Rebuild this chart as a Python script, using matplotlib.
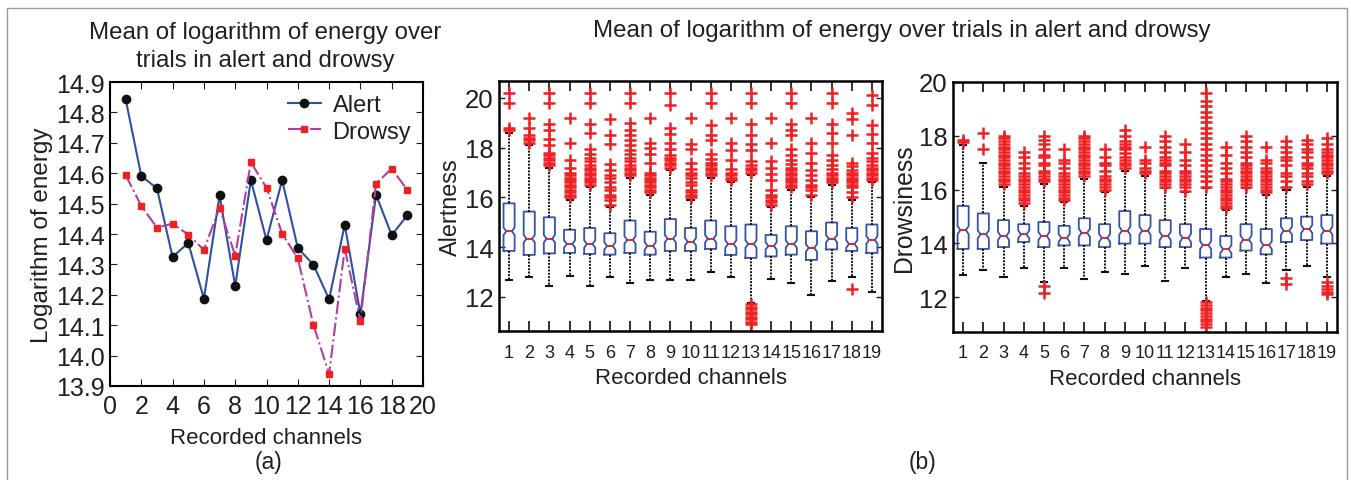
import numpy as np
import matplotlib
matplotlib.use('Agg')
import matplotlib.pyplot as plt
from matplotlib.patches import Rectangle

plt.rcParams['font.family'] = ['Liberation Sans', 'DejaVu Sans']
plt.rcParams['text.color'] = '#231f20'
plt.rcParams['axes.labelcolor'] = '#231f20'
plt.rcParams['xtick.color'] = '#231f20'
plt.rcParams['ytick.color'] = '#231f20'

# (a) mean log energy per channel
channels = list(range(1, 20))
alert_mean = [14.843, 14.591, 14.550, 14.324, 14.371, 14.187, 14.527, 14.229, 14.577, 14.380,
              14.577, 14.354, 14.299, 14.185, 14.431, 14.136, 14.529, 14.396, 14.462]
drowsy_mean = [14.594, 14.492, 14.421, 14.434, 14.398, 14.348, 14.486, 14.329, 14.636, 14.552,
               14.401, 14.320, 14.101, 13.939, 14.352, 14.113, 14.566, 14.615, 14.545]

# (b) box statistics, alertness
al_q1 = [13.85, 13.69, 13.75, 13.77, 13.73, 13.70, 13.77, 13.70, 13.85, 13.85,
         13.93, 13.69, 13.57, 13.63, 13.70, 13.49, 13.91, 13.85, 13.77]
al_med = [14.64, 14.34, 14.34, 14.13, 14.13, 14.05, 14.29, 14.05, 14.34, 14.22,
          14.34, 14.13, 14.13, 14.05, 14.13, 13.97, 14.34, 14.13, 14.29]
al_q3 = [15.76, 15.43, 15.20, 14.70, 14.77, 14.56, 15.07, 14.62, 15.13, 14.77,
         15.07, 14.84, 14.91, 14.49, 14.84, 14.64, 14.99, 14.77, 14.91]
al_lo = [12.69, 12.79, 12.43, 12.86, 12.43, 12.79, 12.56, 12.69, 12.69, 12.69,
         12.99, 12.79, 11.75, 12.72, 12.56, 12.08, 12.65, 12.79, 12.21]
al_hi = [18.6, 18.1, 17.2, 15.9, 16.4, 15.6, 16.8, 16.1, 17.1, 15.9,
         16.8, 16.6, 16.9, 15.6, 16.3, 16.0, 16.5, 15.9, 16.6]
al_out = [
    [18.7, 18.8, 19.8, 20.2],
    [18.2, 18.3, 18.4, 18.5, 18.8, 19.2],
    [17.3, 17.4, 17.5, 17.6, 17.7, 17.8, 18.1, 18.35, 18.7, 18.95, 19.8, 20.2],
    [16.0, 16.1, 16.2, 16.3, 16.4, 16.5, 16.6, 16.7, 16.8, 16.9, 17.0, 17.2, 17.5, 18.2, 19.2],
    [16.5, 16.6, 16.7, 16.8, 16.9, 17.0, 17.1, 17.2, 17.3, 17.45, 17.6, 17.75, 17.95, 18.6, 18.95, 19.8, 20.2],
    [15.7, 15.9, 16.0, 16.1, 16.3, 16.4, 16.6, 16.8, 16.9, 17.1, 17.35, 18.15, 18.5, 19.15],
    [16.9, 17.0, 17.1, 17.2, 17.3, 17.45, 17.6, 17.75, 17.9, 18.1, 18.3, 18.5, 18.7, 19.0, 19.8, 20.2],
    [16.2, 16.3, 16.4, 16.5, 16.6, 16.7, 16.8, 16.9, 17.0, 17.4, 17.75, 18.0, 18.2, 19.2],
    [17.2, 17.3, 17.4, 17.5, 17.6, 17.7, 17.95, 18.2, 18.55, 18.8, 19.7, 20.2],
    [16.0, 16.1, 16.2, 16.3, 16.5, 16.6, 16.8, 16.9, 17.0, 17.15, 17.4, 17.95, 18.15, 19.2],
    [16.9, 17.0, 17.1, 17.2, 17.3, 17.4, 17.55, 17.75, 18.3, 18.5, 18.9, 19.8, 20.2],
    [16.7, 16.8, 16.9, 17.0, 17.15, 17.5, 17.9, 18.2, 19.2],
    [10.9, 11.0, 11.1, 11.2, 11.3, 11.4, 11.5, 11.6, 11.7, 17.0, 17.1, 17.2, 17.3, 17.45, 17.9, 18.15, 18.5, 18.95, 19.8, 20.2],
    [15.7, 15.8, 15.9, 16.0, 16.1, 16.3, 16.7, 16.95, 17.2, 17.45, 18.2, 19.2],
    [16.4, 16.5, 16.6, 16.7, 16.8, 16.9, 17.0, 17.1, 17.2, 17.35, 17.5, 17.7, 17.95, 18.5, 18.7, 18.95, 19.8, 20.2],
    [16.1, 16.3, 16.4, 16.5, 16.7, 16.9, 17.1, 17.4, 17.8, 18.2, 19.2],
    [16.6, 16.7, 16.8, 16.9, 17.0, 17.15, 17.3, 17.5, 17.7, 18.2, 18.6, 18.95, 19.8, 20.2],
    [12.3, 16.0, 16.2, 16.4, 16.5, 16.6, 16.7, 16.8, 16.9, 17.0, 17.1, 17.25, 17.4, 18.5, 19.15, 19.4],
    [16.7, 16.8, 16.9, 17.0, 17.1, 17.2, 17.3, 17.45, 17.6, 17.8, 18.2, 18.55, 18.9, 19.7, 20.1],
]

# (b) box statistics, drowsiness
dr_q1 = [13.79, 13.79, 13.86, 14.05, 13.86, 13.92, 13.92, 13.86, 13.99, 13.99,
         13.86, 13.86, 13.47, 13.47, 13.73, 13.59, 14.05, 14.12, 13.99]
dr_med = [14.49, 14.33, 14.27, 14.33, 14.27, 14.20, 14.39, 14.20, 14.47, 14.47,
          14.27, 14.20, 13.93, 13.78, 14.14, 13.93, 14.47, 14.53, 14.47]
dr_q3 = [15.39, 15.11, 14.86, 14.71, 14.79, 14.65, 14.93, 14.71, 15.20, 15.05,
         14.86, 14.71, 14.53, 14.27, 14.71, 14.53, 14.93, 14.99, 15.05]
dr_lo = [12.81, 13.00, 12.75, 13.08, 12.56, 13.08, 12.66, 12.94, 12.87, 13.15,
         12.60, 13.08, 11.85, 12.75, 12.87, 12.54, 13.00, 13.15, 12.75]
dr_hi = [17.65, 17.0, 16.1, 15.4, 16.2, 15.55, 16.4, 15.9, 16.7, 16.5,
         16.05, 15.9, 16.05, 15.25, 16.05, 15.8, 16.0, 16.1, 16.5]
dr_out = [
    [17.75, 17.85],
    [17.5, 18.1],
    [16.2, 16.3, 16.4, 16.5, 16.6, 16.7, 16.8, 16.9, 17.0, 17.1, 17.2, 17.3, 17.4, 17.5, 17.6, 17.7, 17.8, 17.9, 18.0],
    [15.5, 15.6, 15.7, 15.8, 15.9, 16.0, 16.1, 16.2, 16.3, 16.4, 16.5, 16.6, 16.8, 17.0, 17.2, 17.4],
    [12.15, 12.4, 16.3, 16.4, 16.5, 16.6, 16.7, 16.9, 17.0, 17.2, 17.3, 17.5, 17.7, 17.85, 18.0],
    [15.6, 15.7, 15.8, 15.9, 16.0, 16.1, 16.2, 16.3, 16.4, 16.5, 16.6, 16.8, 17.0, 17.1, 17.5],
    [16.5, 16.6, 16.7, 16.8, 16.9, 17.0, 17.1, 17.2, 17.3, 17.4, 17.5, 17.6, 17.7, 17.8, 17.9, 18.0],
    [16.0, 16.1, 16.2, 16.3, 16.4, 16.5, 16.7, 16.9, 17.0, 17.2, 17.5],
    [16.8, 16.9, 17.0, 17.1, 17.2, 17.35, 17.5, 17.6, 17.7, 17.8, 18.0, 18.2],
    [16.6, 16.7, 16.8, 17.0, 17.1, 17.6],
    [16.1, 16.2, 16.3, 16.4, 16.5, 16.6, 16.7, 16.9, 17.0, 17.1, 17.2, 17.4, 17.6, 17.8, 18.0],
    [15.95, 16.1, 16.2, 16.3, 16.4, 16.5, 16.6, 16.7, 16.9, 17.1, 17.4, 17.7],
    [10.9, 11.0, 11.1, 11.2, 11.3, 11.4, 11.5, 11.6, 11.7, 11.8, 16.1, 16.3, 16.5, 16.7, 16.9, 17.1,
     17.3, 17.5, 17.7, 17.9, 18.1, 18.3, 18.5, 18.7, 18.9, 19.1, 19.3, 19.6],
    [15.3, 15.4, 15.5, 15.6, 15.7, 15.8, 15.9, 16.0, 16.1, 16.2, 16.3, 16.4, 16.6, 16.8, 17.0, 17.3, 17.6],
    [16.1, 16.2, 16.3, 16.4, 16.5, 16.6, 16.7, 16.8, 16.9, 17.0, 17.2, 17.4, 17.6, 17.8, 18.0],
    [15.9, 16.0, 16.1, 16.2, 16.3, 16.4, 16.5, 16.6, 16.7, 16.8, 17.0, 17.1, 17.6],
    [12.5, 12.7, 16.1, 16.3, 16.5, 16.6, 16.9, 17.1, 17.2, 17.4, 17.6, 17.8],
    [16.2, 16.3, 16.5, 16.6, 16.8, 16.9, 17.0, 17.2, 17.4, 17.5, 17.7, 17.85],
    [12.1, 12.2, 12.3, 12.4, 12.55, 16.6, 16.7, 16.8, 16.9, 17.0, 17.1, 17.2, 17.3, 17.4, 17.5, 17.7, 17.9],
]

W, H = 1351, 481
fig = plt.figure(figsize=(W / 100, H / 100), dpi=100)


def fr(x0, y0, x1, y1):
    # pixel box -> figure fraction [left, bottom, width, height]
    return [x0 / W, 1 - y1 / H, (x1 - x0) / W, (y1 - y0) / H]


# ---- (a) line chart ----
ax1 = fig.add_axes(fr(110, 83, 423, 387))
ax1.plot(channels, alert_mean, '-o', color='#2f4fa2', lw=1.5, marker='o', ms=6,
         mfc='#111111', mec='#111111', label='Alert')
ax1.plot(channels, drowsy_mean, '-.', color='#b23fa0', lw=1.5, marker='s', ms=5,
         mfc='#ee2024', mec='#ee2024', label='Drowsy')
ax1.set_xlim(0, 20)
ax1.set_ylim(13.9, 14.9)
ax1.set_xticks(range(0, 21, 2))
ax1.set_yticks(np.arange(13.9, 14.95, 0.1))
ax1.set_yticklabels(['%.1f' % v for v in np.arange(13.9, 14.95, 0.1)])
ax1.tick_params(direction='in', top=True, right=True, labelsize=18, length=5, pad=4)
ax1.tick_params(axis='x', pad=6)
ax1.set_ylabel('Logarithm of energy', fontsize=17.5, labelpad=2)
ax1.set_xlabel('Recorded channels', fontsize=16, labelpad=6)
for s in ax1.spines.values():
    s.set_linewidth(1.5)
ax1.legend(loc='upper right', frameon=False, fontsize=17, handlelength=1.4,
           borderaxespad=0.1, labelspacing=0.2, handletextpad=0.5)
fig.text(265 / W, 1 - 47 / H, 'Mean of logarithm of energy over\ntrials in alert and drowsy',
         ha='center', va='center', fontsize=17.3, linespacing=1.3)
fig.text(268 / W, 1 - 463 / H, '(a)', ha='center', va='center', fontsize=16.5)


# ---- (b) box plots ----
def draw_boxes(ax, q1, med, q3, lo, hi, out):
    stats = []
    for i in range(len(med)):
        stats.append({'med': med[i], 'q1': q1[i], 'q3': q3[i],
                      'whislo': lo[i], 'whishi': hi[i], 'fliers': out[i],
                      'cilo': med[i] - 0.15, 'cihi': med[i] + 0.15})
    ax.bxp(stats, positions=channels, widths=0.55, shownotches=True, capwidths=0.3,
           boxprops=dict(color='#3752a6', lw=1.3),
           medianprops=dict(color='#ee2024', lw=1.4),
           whiskerprops=dict(color='#111111', lw=1.4, linestyle=(0, (1, 0.7))),
           capprops=dict(color='#111111', lw=1.5),
           flierprops=dict(marker='+', markeredgecolor='#ee2024', markersize=9, mew=1.8))
    ax.set_xlim(0.5, 19.5)
    ax.set_xticks(channels)
    ax.set_xticklabels([str(c) for c in channels])
    ax.tick_params(axis='x', direction='in', top=True, length=7, width=1.3,
                   labelsize=13, pad=9)
    ax.tick_params(axis='y', direction='in', right=True, length=4, width=1,
                   labelsize=18.5, pad=4)
    for s in ax.spines.values():
        s.set_linewidth(1.8)
    ax.set_xlabel('Recorded channels', fontsize=16, labelpad=5)


ax2 = fig.add_axes(fr(499, 82, 882, 332))
draw_boxes(ax2, al_q1, al_med, al_q3, al_lo, al_hi, al_out)
ax2.set_ylim(10.63, 20.68)
ax2.set_yticks([12, 14, 16, 18, 20])
ax2.set_ylabel('Alertness', fontsize=16.8, labelpad=2)

ax3 = fig.add_axes(fr(953, 83, 1337, 333))
draw_boxes(ax3, dr_q1, dr_med, dr_q3, dr_lo, dr_hi, dr_out)
ax3.set_ylim(10.7, 20.0)
ax3.set_yticks([12, 14, 16, 18, 20])
ax3.set_ylabel('Drowsiness', fontsize=17.8, labelpad=2)

fig.text(902 / W, 1 - 31 / H, 'Mean of logarithm of energy over trials in alert and drowsy',
         ha='center', va='center', fontsize=17.3)
fig.text(922 / W, 1 - 463 / H, '(b)', ha='center', va='center', fontsize=16.5)

# outer frame
fig.add_artist(Rectangle((7 / W, -0.05), 1340 / W, 1.05 - 9 / H, transform=fig.transFigure,
                         fill=False, edgecolor='#9a9a9a', lw=1))

fig.savefig('out.png', dpi=100)
